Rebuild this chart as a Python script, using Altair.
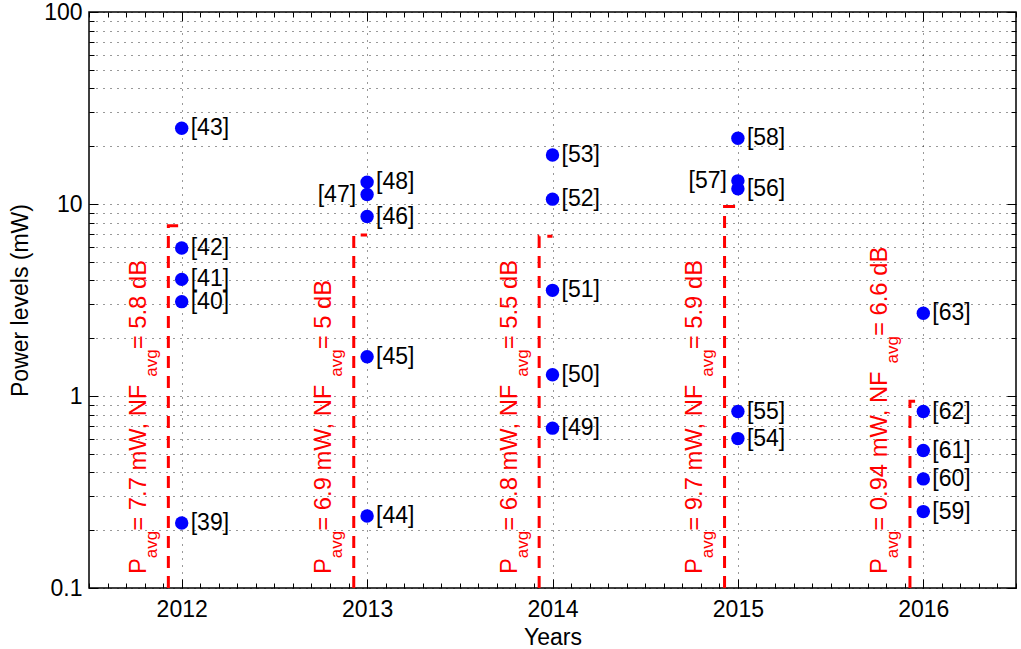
import altair as alt
import pandas as pd

FONT = "Liberation Sans"

# ---------------- data ----------------
point_years = [2012, 2012, 2012, 2012, 2012,
               2013, 2013, 2013, 2013, 2013,
               2014, 2014, 2014, 2014, 2014,
               2015, 2015, 2015, 2015, 2015,
               2016, 2016, 2016, 2016, 2016]
point_refs = ["[39]", "[40]", "[41]", "[42]", "[43]",
              "[44]", "[45]", "[46]", "[47]", "[48]",
              "[49]", "[50]", "[51]", "[52]", "[53]",
              "[54]", "[55]", "[56]", "[57]", "[58]",
              "[59]", "[60]", "[61]", "[62]", "[63]"]
point_power = [0.218, 3.1, 4.05, 5.9, 24.8,
               0.237, 1.6, 8.6, 11.2, 13.0,
               0.68, 1.29, 3.55, 10.6, 18.0,
               0.6, 0.83, 12.0, 13.2, 22.0,
               0.25, 0.37, 0.52, 0.83, 2.7]
labels_on_left = ["[47]", "[57]"]

avg_years = [2012, 2013, 2014, 2015, 2016]
p_avg = [7.7, 6.9, 6.8, 9.7, 0.94]
p_avg_txt = ["7.7", "6.9", "6.8", "9.7", "0.94"]
nf_avg_txt = ["5.8", "5", "5.5", "5.9", "6.6"]

x_ticks = [2012, 2013, 2014, 2015, 2016]
x_minor = [round(2011.5 + 0.1 * i, 1) for i in range(51)]
y_major = [0.1, 1, 10, 100]
y_minor = [m * d for d in (0.1, 1, 10) for m in range(2, 10)]
X_DOMAIN = [2011.5, 2016.5]
Y_DOMAIN = [0.1, 100]

# ---------------- styling helpers ----------------
MAIN_FS = 23.8
SUB_FS = 17
LABEL_FS = 23
TEXT_START = 14      # px along the rotated text from the bottom of the axes
TEXT_DY = -36        # px left of the year (rotated frame)
SUB_SHIFT = 11       # subscript shift
LINE_SHIFT = 0.072   # red dashed line is drawn just left of the year

W = {' ': 278, '=': 584, '.': 278, ',': 278, 'm': 833, 'W': 944, 'N': 722,
     'F': 611, 'P': 667, 'd': 556, 'B': 667, 'a': 556, 'v': 500, 'g': 556}
for c in "0123456789":
    W[c] = 556


def tw(s, fs):
    return sum(W.get(c, 556) for c in s) / 1000.0 * fs


pts_df = pd.DataFrame({"year": point_years, "power": point_power, "ref": point_refs})
pts_df["side"] = ["left" if r in labels_on_left else "right" for r in point_refs]

line_rows = []
for yr, p in zip(avg_years, p_avg):
    line_rows.append({"year": yr, "ord": 0, "x": yr - LINE_SHIFT, "y": Y_DOMAIN[0]})
    line_rows.append({"year": yr, "ord": 1, "x": yr - LINE_SHIFT, "y": p})
    line_rows.append({"year": yr, "ord": 2, "x": yr, "y": p})
line_df = pd.DataFrame(line_rows)

main_rows, sub_rows = [], []
for yr, pt, nt in zip(avg_years, p_avg_txt, nf_avg_txt):
    s1 = "P"
    s2 = " = " + pt + " mW, NF"
    s3 = " = " + nt + " dB"
    pos = TEXT_START
    main_rows.append({"year": yr, "y": Y_DOMAIN[0], "t": s1, "dx": pos})
    pos += tw(s1, MAIN_FS)
    sub_rows.append({"year": yr, "y": Y_DOMAIN[0], "t": "avg", "dx": pos})
    pos += tw("avg", SUB_FS)
    main_rows.append({"year": yr, "y": Y_DOMAIN[0], "t": s2, "dx": pos})
    pos += tw(s2, MAIN_FS)
    sub_rows.append({"year": yr, "y": Y_DOMAIN[0], "t": "avg", "dx": pos})
    pos += tw("avg", SUB_FS)
    main_rows.append({"year": yr, "y": Y_DOMAIN[0], "t": s3, "dx": pos})
main_df = pd.DataFrame(main_rows)
sub_df = pd.DataFrame(sub_rows)

xs = alt.Scale(domain=X_DOMAIN, nice=False, zero=False)
ys = alt.Scale(type="log", domain=Y_DOMAIN, nice=False)

GRID = dict(grid=True, gridColor="black", gridDash=[1, 6], gridWidth=1, gridOpacity=0.8)
AXTXT = dict(labelFont=FONT, titleFont=FONT, labelFontSize=23, titleFontSize=23,
             labelColor="black", titleColor="black", titleFontWeight="normal")


def tick_axis(orient, values, size):
    return alt.Axis(orient=orient, values=values, labels=False, title=None, grid=False,
                    domain=False, ticks=True, tickSize=size, offset=-size,
                    tickColor="black", tickWidth=1)


main_x_axis = alt.Axis(orient="bottom", values=x_ticks, format="d", title="Years",
                       ticks=False, tickSize=0, domain=False, labelPadding=10,
                       titlePadding=5, labelFlush=False, **GRID, **AXTXT)
main_y_axis = alt.Axis(orient="left", values=y_major + y_minor, ticks=False, tickSize=0,
                       domain=False, labelPadding=7, titlePadding=11, labelOverlap=False,
                       labelExpr="abs(log(datum.value)/LN10 - round(log(datum.value)/LN10)) < 0.01 ? format(datum.value, '~g') : ''",
                       title="Power levels (mW)", **GRID, **AXTXT)

points = alt.Chart(pts_df).mark_circle(size=180, color="#0000ff", opacity=1).encode(
    x=alt.X("year:Q", scale=xs, axis=main_x_axis),
    y=alt.Y("power:Q", scale=ys, axis=main_y_axis),
)

lbl_right = alt.Chart(pts_df).transform_filter("datum.side == 'right'").mark_text(
    align="left", baseline="middle", dx=9, fontSize=LABEL_FS, font=FONT, color="black"
).encode(
    x=alt.X("year:Q", scale=xs, axis=tick_axis("bottom", x_ticks, 9)),
    y=alt.Y("power:Q", scale=ys, axis=tick_axis("left", y_major, 9)),
    text="ref:N",
)

lbl_left = alt.Chart(pts_df).transform_filter("datum.side == 'left'").mark_text(
    align="right", baseline="middle", dx=-11, fontSize=LABEL_FS, font=FONT, color="black"
).encode(
    x=alt.X("year:Q", scale=xs, axis=tick_axis("bottom", x_minor, 5)),
    y=alt.Y("power:Q", scale=ys, axis=tick_axis("left", y_minor, 5)),
    text="ref:N",
)

red_lines = alt.Chart(line_df).mark_line(color="#ff0000", strokeWidth=3, strokeDash=[12, 8]).encode(
    x=alt.X("x:Q", scale=xs, axis=tick_axis("top", x_ticks, 9)),
    y=alt.Y("y:Q", scale=ys, axis=tick_axis("right", y_major, 9)),
    detail="year:N",
    order="ord:Q",
)

red_main = alt.Chart(main_df).mark_text(
    align="left", baseline="alphabetic", angle=270, fontSize=MAIN_FS, font=FONT,
    color="#ff0000", dy=TEXT_DY, dx=alt.ExprRef("datum.dx")
).encode(
    x=alt.X("year:Q", scale=xs, axis=tick_axis("top", x_minor, 5)),
    y=alt.Y("y:Q", scale=ys, axis=tick_axis("right", y_minor, 5)),
    text="t:N",
)

red_sub = alt.Chart(sub_df).mark_text(
    align="left", baseline="alphabetic", angle=270, fontSize=SUB_FS, font=FONT,
    color="#ff0000", dy=TEXT_DY + SUB_SHIFT, dx=alt.ExprRef("datum.dx")
).encode(
    x=alt.X("year:Q", scale=xs, axis=None),
    y=alt.Y("y:Q", scale=ys, axis=None),
    text="t:N",
)

chart = alt.layer(points, lbl_right, lbl_left, red_lines, red_main, red_sub).resolve_axis(
    x="independent", y="independent"
).properties(
    width=927, height=576,
    autosize=alt.AutoSizeParams(type="none"),
    padding={"left": 89, "top": 12, "right": 5, "bottom": 61},
    background="white",
).configure_view(
    stroke="black", strokeWidth=1.5
)

chart.save("out.html", embed_options={"renderer": "svg", "actions": False})
